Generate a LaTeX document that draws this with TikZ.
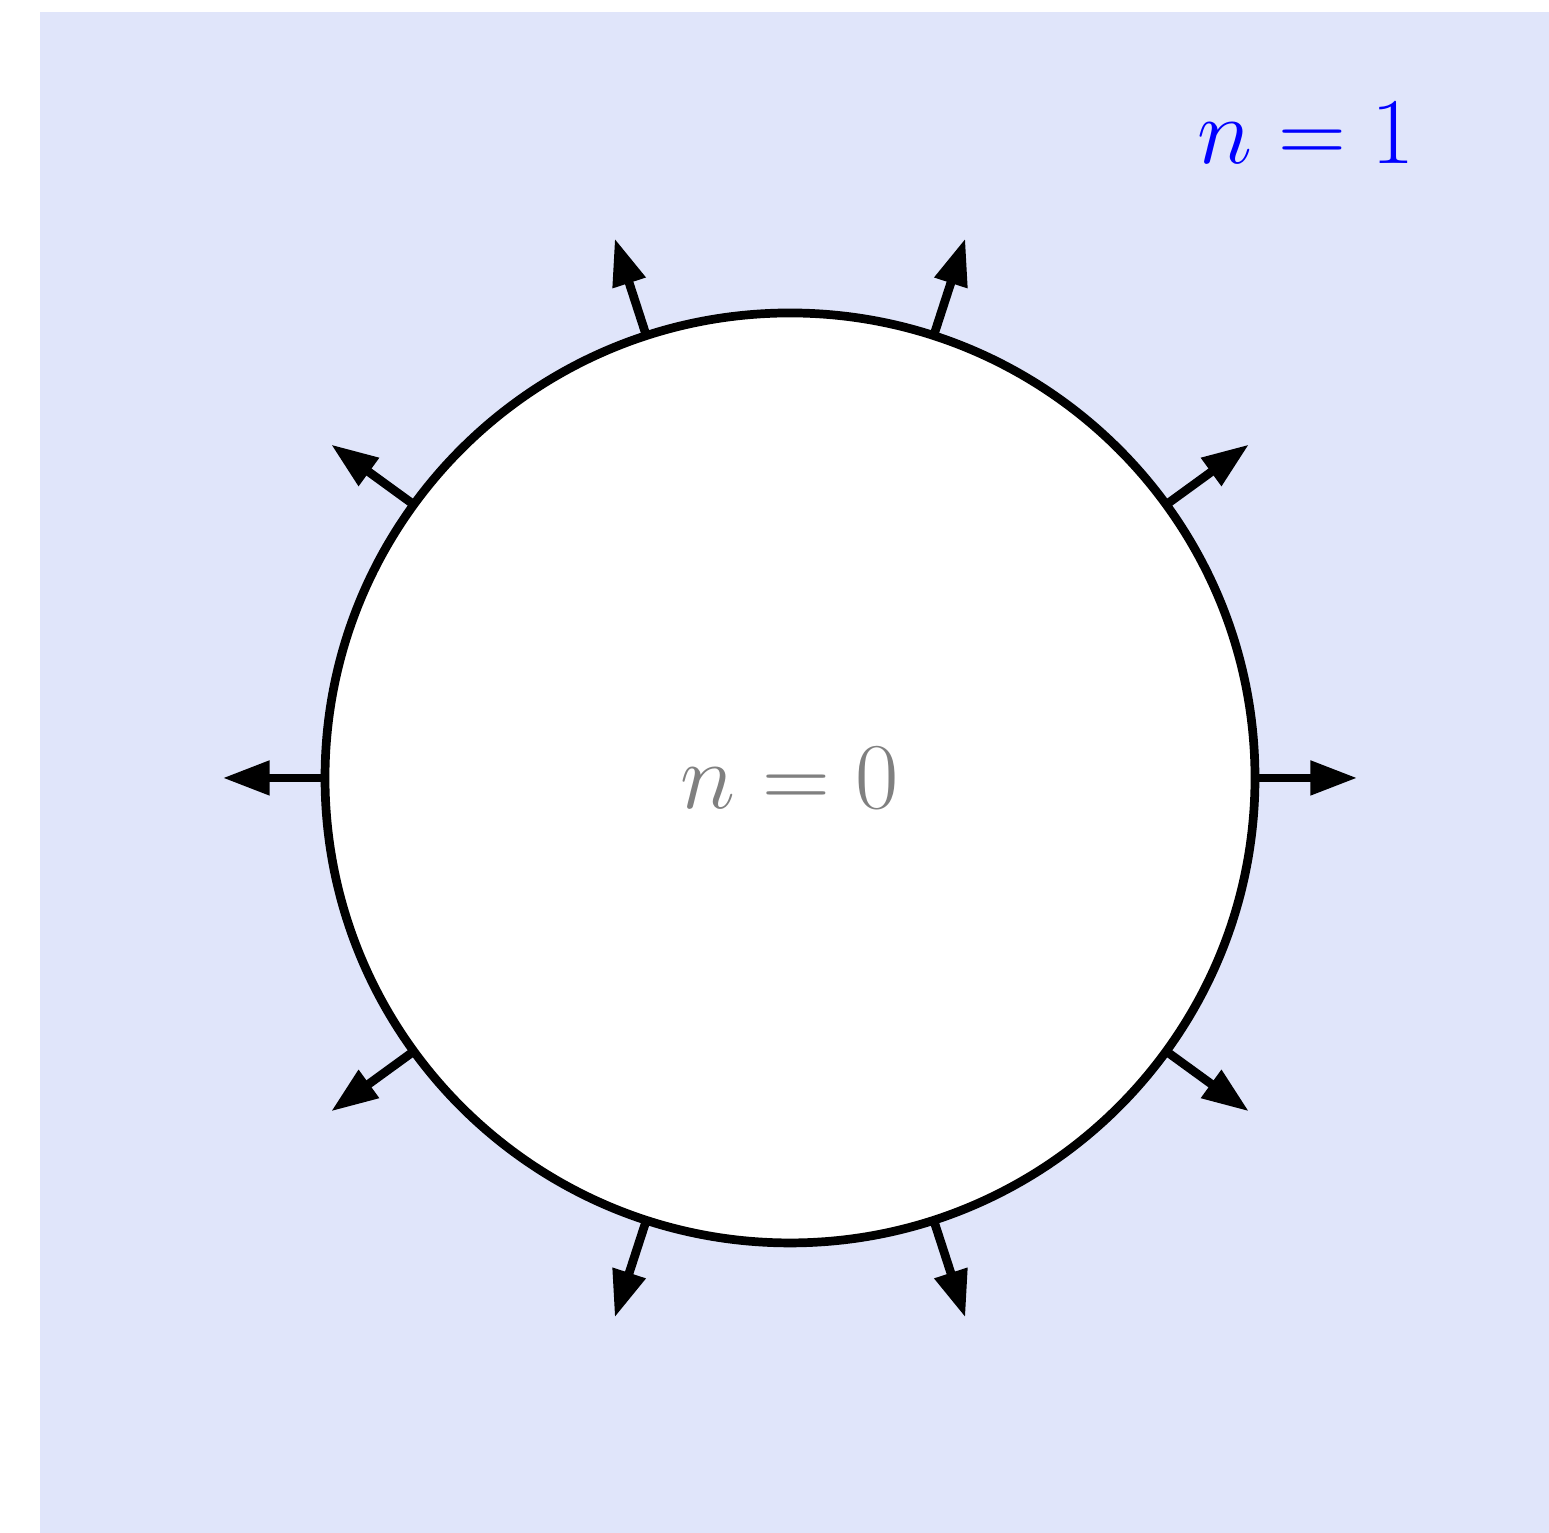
\documentclass[tikz,border=0pt]{standalone}
\usepackage{amsmath}
\usetikzlibrary{arrows.meta}

\definecolor{bgblue}{RGB}{224,229,250}

\begin{document}
\begin{tikzpicture}[
        label text/.style={font=\fontsize{16.8}{20}\selectfont},
        disk/.style={draw, circle, minimum size=6cm, line width=1.6pt, fill=white, outer sep=0pt},
        flux/.style={-{Triangle[length=8.6pt, width=6pt]}, line width=1.6pt},
    ]

    % Canvas and background
    \useasboundingbox (-5.097,-4.871) rectangle (4.897,5.019);
    \fill[bgblue] (-4.839,-4.871) rectangle (4.897,4.942);

    % Region labels
    \node[disk, label text, text=gray] (disk) at (0,0) {$n=0$};
    \node[label text, text=blue] (outer) at (3.33,4.16) {$n=1$};

    % End points of the outward arrows
    \coordinate (out0) at (0:3.66);
    \coordinate (out36) at (36:3.66);
    \coordinate (out72) at (72:3.66);
    \coordinate (out108) at (108:3.66);
    \coordinate (out144) at (144:3.66);
    \coordinate (out180) at (180:3.66);
    \coordinate (out216) at (216:3.66);
    \coordinate (out252) at (252:3.66);
    \coordinate (out288) at (288:3.66);
    \coordinate (out324) at (324:3.66);

    % Arrows leaving the disk
    \draw[flux] (disk.0) -- (out0);
    \draw[flux] (disk.36) -- (out36);
    \draw[flux] (disk.72) -- (out72);
    \draw[flux] (disk.108) -- (out108);
    \draw[flux] (disk.144) -- (out144);
    \draw[flux] (disk.180) -- (out180);
    \draw[flux] (disk.216) -- (out216);
    \draw[flux] (disk.252) -- (out252);
    \draw[flux] (disk.288) -- (out288);
    \draw[flux] (disk.324) -- (out324);

\end{tikzpicture}
\end{document}
